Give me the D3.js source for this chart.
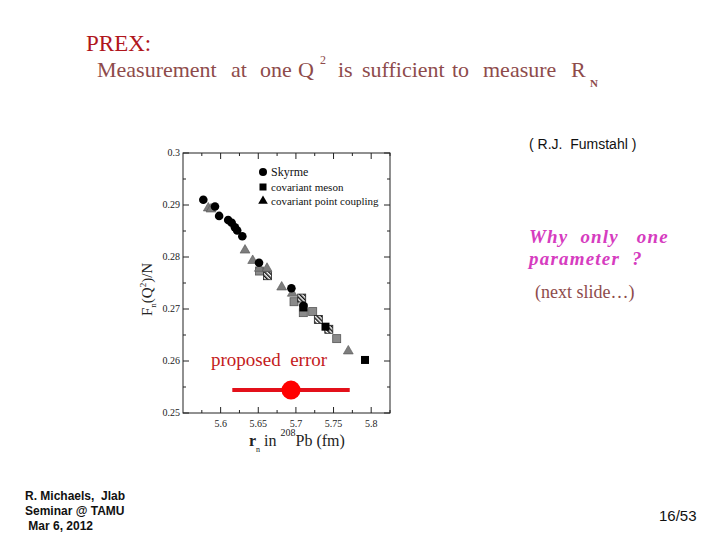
<!DOCTYPE html>
<html>
<head>
<meta charset="utf-8">
<script src="https://cdn.jsdelivr.net/npm/d3@7"></script>
<style>
  body { margin: 0; background: #fff; }
  svg { display: block; }
</style>
</head>
<body>
<svg id="board" width="720" height="540"></svg>
<script>
// data
const skyrme = [
    [5.577, 0.2910], [5.5925, 0.2897], [5.598, 0.2879], [5.610, 0.2871],
    [5.6147, 0.2866], [5.619, 0.2857], [5.622, 0.2851], [5.6288, 0.2840],
    [5.651, 0.2789], [5.694, 0.2740], [5.710, 0.2706]
];
const mesonBlack = [[5.710, 0.2703], [5.7393, 0.2666], [5.7918, 0.2602]];
const mesonGray = [[5.6516, 0.2773], [5.6975, 0.2714], [5.7098, 0.2693], [5.7223, 0.2695], [5.7542, 0.2643]];
const mesonHatched = [[5.6623, 0.2764], [5.7077, 0.2721], [5.7298, 0.2680], [5.7437, 0.2661]];
const pointCoupling = [
    [5.5836, 0.2894], [5.5872, 0.2892], [5.6324, 0.2813], [5.6426, 0.2793],
    [5.6514, 0.2778], [5.6616, 0.2778], [5.6811, 0.2742], [5.6952, 0.2730], [5.7696, 0.2619]
];
const proposed = { x: 5.6935, y: 0.2544, err: 0.078 };
const xTicks = [5.6, 5.65, 5.7, 5.75, 5.8];
const yTicks = [0.25, 0.26, 0.27, 0.28, 0.29, 0.3];
const legendItems = ["Skyrme", "covariant meson", "covariant point coupling"];

const svg = d3.select("#board");
const serif = "'Liberation Serif', 'Times New Roman', serif";
const narrow = "'Liberation Sans Narrow', 'Arial Narrow', sans-serif";

// slide headings
svg.append("text").attr("x", 86).attr("y", 51)
    .attr("font-family", serif).attr("font-size", 23).attr("fill", "#b0161c")
    .text("PREX:");

// subtitle words placed one by one, the slide spaces them loosely
const subWords = [
    ["Measurement", 97], ["at", 231], ["one", 260], ["Q", 298], ["is", 338],
    ["sufficient", 362], ["to", 452], ["measure", 483], ["R", 571]
];
svg.selectAll("text.sub").data(subWords).join("text").attr("class", "sub")
    .attr("x", d => d[1]).attr("y", 77)
    .attr("font-family", serif).attr("font-size", 22).attr("fill", "#8e4b4b")
    .text(d => d[0]);
svg.append("text").attr("x", 320).attr("y", 64)
    .attr("font-family", serif).attr("font-size", 12).attr("fill", "#8e4b4b").text("2");
svg.append("text").attr("x", 590).attr("y", 87)
    .attr("font-family", serif).attr("font-size", 11).attr("font-weight", "bold").attr("fill", "#8e4b4b").text("N");

svg.append("text").attr("x", 529).attr("y", 149)
    .attr("font-family", "'Liberation Sans', Arial, sans-serif").attr("font-size", 14)
    .attr("fill", "#111").attr("xml:space", "preserve")
    .text("( R.J.  Fumstahl )");

const why = svg.append("text").attr("font-family", serif).attr("font-size", 19)
    .attr("font-weight", "bold").attr("font-style", "italic").attr("fill", "#d63cbf")
    .attr("letter-spacing", 1.2).attr("xml:space", "preserve");
why.append("tspan").attr("x", 529).attr("y", 243).text("Why  only   one");
why.append("tspan").attr("x", 529).attr("y", 265).text("parameter  ?");

svg.append("text").attr("x", 535).attr("y", 298)
    .attr("font-family", serif).attr("font-size", 18).attr("fill", "#8e4b4b")
    .text("(next slide…)");

// footer
const foot = svg.append("text").attr("font-family", narrow)
    .attr("font-size", 12).attr("font-weight", "bold").attr("fill", "#111")
    .attr("xml:space", "preserve");
foot.append("tspan").attr("x", 25).attr("y", 500).text("R. Michaels,  Jlab");
foot.append("tspan").attr("x", 25).attr("y", 515).text("Seminar @ TAMU");
foot.append("tspan").attr("x", 25).attr("y", 530).text(" Mar 6, 2012");

svg.append("text").attr("x", 659).attr("y", 521)
    .attr("font-family", narrow)
    .attr("font-size", 15).attr("fill", "#111")
    .text("16/53");

// plot
const plot = { left: 183, right: 390, top: 153, bottom: 413 };
const x = d3.scaleLinear().domain([5.55, 5.825]).range([plot.left, plot.right]);
const y = d3.scaleLinear().domain([0.25, 0.3]).range([plot.bottom, plot.top]);

const defs = svg.append("defs");
const pat = defs.append("pattern").attr("id", "hatch").attr("patternUnits", "userSpaceOnUse")
    .attr("width", 3).attr("height", 3).attr("patternTransform", "rotate(-45)");
pat.append("rect").attr("width", 3).attr("height", 3).attr("fill", "#fff");
pat.append("rect").attr("width", 1.5).attr("height", 3).attr("fill", "#111");

const g = svg.append("g");

g.append("rect")
    .attr("x", plot.left).attr("y", plot.top)
    .attr("width", plot.right - plot.left).attr("height", plot.bottom - plot.top)
    .attr("fill", "none").attr("stroke", "#222").attr("stroke-width", 1);

// inward ticks on all four sides
const xMinor = d3.range(5.575, 5.826, 0.025);
const yMinor = d3.range(0.255, 0.3, 0.01);
const tickLen = (major) => major ? 6 : 3;
xMinor.forEach(v => {
    const major = xTicks.some(t => Math.abs(t - v) < 1e-6);
    const l = tickLen(major);
    g.append("line").attr("x1", x(v)).attr("x2", x(v)).attr("y1", plot.bottom).attr("y2", plot.bottom - l).attr("stroke", "#222");
    g.append("line").attr("x1", x(v)).attr("x2", x(v)).attr("y1", plot.top).attr("y2", plot.top + l).attr("stroke", "#222");
});
yTicks.concat(yMinor).forEach(v => {
    const major = yTicks.includes(v);
    const l = tickLen(major);
    g.append("line").attr("y1", y(v)).attr("y2", y(v)).attr("x1", plot.left).attr("x2", plot.left + l).attr("stroke", "#222");
    g.append("line").attr("y1", y(v)).attr("y2", y(v)).attr("x1", plot.right).attr("x2", plot.right - l).attr("stroke", "#222");
});

g.selectAll("text.xt").data(xTicks).join("text").attr("class", "xt")
    .attr("x", d => x(d)).attr("y", plot.bottom + 14)
    .attr("text-anchor", "middle").attr("font-family", serif).attr("font-size", 10).attr("fill", "#222")
    .text(d => d);
g.selectAll("text.yt").data(yTicks).join("text").attr("class", "yt")
    .attr("x", plot.left - 3).attr("y", d => y(d) + 3)
    .attr("text-anchor", "end").attr("font-family", serif).attr("font-size", 10).attr("fill", "#222")
    .text(d => d);

// axis titles
const xl = g.append("text").attr("x", 249).attr("y", 446)
    .attr("font-family", serif).attr("font-size", 16).attr("fill", "#222");
xl.append("tspan").attr("font-weight", "bold").text("r");
xl.append("tspan").attr("dy", 6).attr("font-size", 8).text("n");
xl.append("tspan").attr("dy", -6).text(" in ");
xl.append("tspan").attr("dy", -10).attr("font-size", 10).text("208");
xl.append("tspan").attr("dy", 10).text("Pb (fm)");

const yl = g.append("text").attr("transform", "translate(152,316) rotate(-90)")
    .attr("font-family", serif).attr("font-size", 15).attr("fill", "#222");
yl.append("tspan").text("F");
yl.append("tspan").attr("dy", 4).attr("font-size", 9).text("n");
yl.append("tspan").attr("dy", -4).text("(Q");
yl.append("tspan").attr("dy", -6).attr("font-size", 9).text("2");
yl.append("tspan").attr("dy", 6).text(")/N");

// markers
const tri = d3.symbol().type(d3.symbolTriangle).size(42);
g.selectAll("rect.gray").data(mesonGray).join("rect").attr("class", "gray")
    .attr("x", d => x(d[0]) - 4).attr("y", d => y(d[1]) - 4).attr("width", 8).attr("height", 8)
    .attr("fill", "#8a8a8a").attr("stroke", "#555").attr("stroke-width", 0.8);
g.selectAll("rect.hatch").data(mesonHatched).join("rect").attr("class", "hatch")
    .attr("x", d => x(d[0]) - 4).attr("y", d => y(d[1]) - 4).attr("width", 8).attr("height", 8)
    .attr("fill", "url(#hatch)").attr("stroke", "#222").attr("stroke-width", 0.8);
g.selectAll("path.tri").data(pointCoupling).join("path").attr("class", "tri")
    .attr("transform", d => `translate(${x(d[0])},${y(d[1])})`)
    .attr("d", tri).attr("fill", "#7d7d7d").attr("stroke", "#555").attr("stroke-width", 0.6);
g.selectAll("circle.sky").data(skyrme).join("circle").attr("class", "sky")
    .attr("cx", d => x(d[0])).attr("cy", d => y(d[1])).attr("r", 4.3).attr("fill", "#000");
g.selectAll("rect.black").data(mesonBlack).join("rect").attr("class", "black")
    .attr("x", d => x(d[0]) - 4).attr("y", d => y(d[1]) - 4).attr("width", 8).attr("height", 8)
    .attr("fill", "#000");

// legend
const lx = 263, ly = [172, 187, 201];
g.append("circle").attr("cx", lx).attr("cy", ly[0]).attr("r", 4).attr("fill", "#000");
g.append("rect").attr("x", lx - 3.5).attr("y", ly[1] - 3.5).attr("width", 7).attr("height", 7).attr("fill", "#000");
g.append("path").attr("transform", `translate(${lx},${ly[2]})`).attr("d", d3.symbol().type(d3.symbolTriangle).size(40)).attr("fill", "#000");
g.selectAll("text.leg").data(legendItems).join("text").attr("class", "leg")
    .attr("x", lx + 8).attr("y", (d, i) => ly[i] + 4)
    .attr("font-family", serif).attr("font-size", (d, i) => i === 0 ? 12 : 11).attr("fill", "#111")
    .text(d => d);

// proposed error
g.append("text").attr("x", 211).attr("y", 366)
    .attr("font-family", serif).attr("font-size", 19).attr("fill", "#c41a20")
    .attr("xml:space", "preserve").text("proposed  error");
g.append("line")
    .attr("x1", x(proposed.x - proposed.err)).attr("x2", x(proposed.x + proposed.err))
    .attr("y1", y(proposed.y)).attr("y2", y(proposed.y))
    .attr("stroke", "#e3101a").attr("stroke-width", 4);
g.append("circle").attr("cx", x(proposed.x)).attr("cy", y(proposed.y)).attr("r", 9.5).attr("fill", "#ff0000");
</script>
</body>
</html>
